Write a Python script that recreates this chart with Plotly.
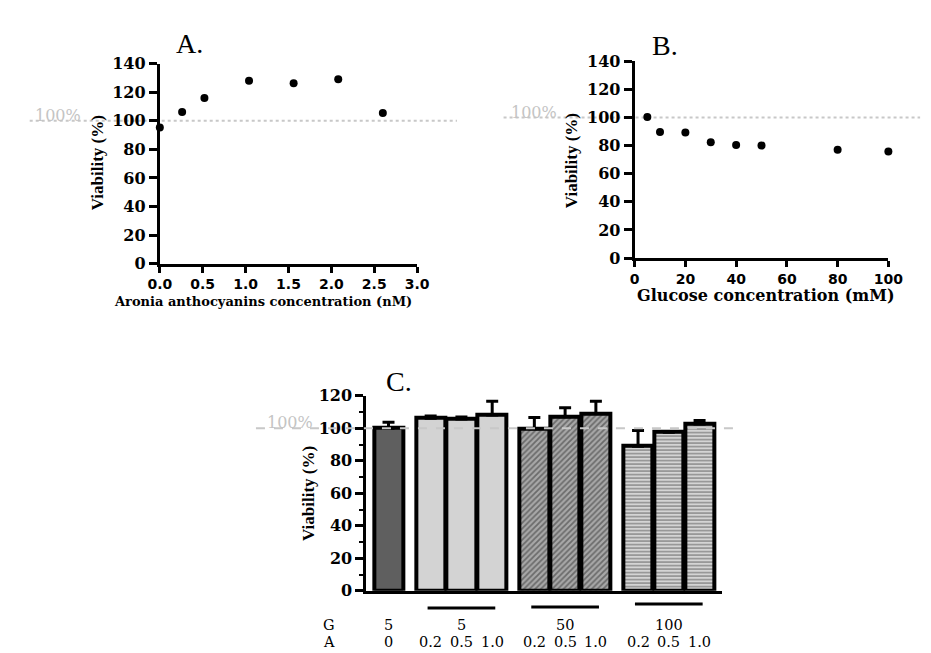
import plotly.graph_objects as go

# ---------------- data ----------------
a_conc = [0, 0.26, 0.52, 1.04, 1.56, 2.08, 2.6]
a_viab = [95.3, 106.2, 116.0, 128.0, 126.2, 129.1, 105.5]

g_conc = [5, 10, 20, 30, 40, 50, 80, 100]
g_viab = [100.4, 89.8, 89.3, 82.4, 80.4, 80.1, 77.1, 75.8]

c_group_G = ["5", "5", "50", "100"]
c_group_A = [["0"], ["0.2", "0.5", "1.0"], ["0.2", "0.5", "1.0"], ["0.2", "0.5", "1.0"]]
c_viab = [[100.0], [106.2, 105.8, 108.2], [99.8, 107.2, 109.2], [89.0, 97.6, 102.6]]
c_err = [[3.8], [1.4, 1.2, 8.5], [6.8, 5.5, 7.5], [9.6, 0.4, 2.2]]

W, H = 931, 653


def px(x):
    return x / W


def py(y):
    return 1 - y / H


SERIF = "Liberation Serif"
DSERIF = "DejaVu Serif"
DSANS = "DejaVu Sans"

fig = go.Figure()

# Panel A
fig.add_trace(go.Scatter(x=a_conc, y=a_viab, mode="markers", xaxis="x", yaxis="y",
                         marker=dict(color="black", size=8), cliponaxis=False, showlegend=False))
# Panel B
fig.add_trace(go.Scatter(x=g_conc, y=g_viab, mode="markers", xaxis="x2", yaxis="y2",
                         marker=dict(color="black", size=8), cliponaxis=False, showlegend=False))

# Panel C bars
styles = [
    dict(color="#5f5f5f"),
    dict(color="#d3d3d3"),
    dict(color="#a8a8a8", pattern=dict(shape="/", fgcolor="#2e2e2e", bgcolor="#a8a8a8", size=4, solidity=0.45)),
    dict(color="#cfcfcf", pattern=dict(shape="-", fgcolor="#5c5c5c", bgcolor="#d4d4d4", size=3.5, solidity=0.5)),
]
gap = 0.37
pos = 0.0
group_pos = []
for gi, vals in enumerate(c_viab):
    xs = []
    for _ in vals:
        xs.append(pos)
        pos += 1
    pos += gap
    group_pos.append(xs)
    m = dict(styles[gi])
    m["line"] = dict(color="black", width=4)
    fig.add_trace(go.Bar(x=xs, y=vals, width=0.95, xaxis="x3", yaxis="y3", marker=m,
                         error_y=dict(type="data", symmetric=False, array=c_err[gi],
                                      arrayminus=[0] * len(vals), color="black",
                                      thickness=3, width=6),
                         showlegend=False))

ytickfont = dict(family=DSERIF, size=16, color="black", weight="bold")
xtickfont = dict(family=DSANS, size=14, color="black", weight="bold")
axcommon = dict(showgrid=False, zeroline=False, showline=True, linecolor="black", linewidth=3,
                ticks="outside", tickcolor="black", tickwidth=2.5)

fig.update_layout(
    width=W, height=H, margin=dict(l=0, r=0, t=0, b=0),
    paper_bgcolor="white", plot_bgcolor="white", bargap=0,
    xaxis=dict(domain=[px(144), px(409)], range=[0, 3], dtick=0.5, tickformat=".1f",
               ticklen=6, tickfont=xtickfont, anchor="y", **axcommon),
    yaxis=dict(domain=[py(254), py(48)], range=[0, 140], dtick=20, ticklen=8,
               tickfont=ytickfont, anchor="x", **axcommon),
    xaxis2=dict(domain=[px(633), px(894.3)], range=[0, 100], dtick=20,
                ticklen=6, tickfont=xtickfont, anchor="y2", **axcommon),
    yaxis2=dict(domain=[py(248.3), py(45.7)], range=[0, 140], dtick=20, ticklen=8,
                tickfont=ytickfont, anchor="x2", **axcommon),
    xaxis3=dict(domain=[px(356.7), px(723)], range=[-0.72, 10.84], showgrid=False, zeroline=False,
                showline=True, linecolor="black", linewidth=3, showticklabels=False, ticks="",
                anchor="y3"),
    yaxis3=dict(domain=[py(591), py(390.2)], range=[0, 120], dtick=20, ticklen=8,
                tickfont=ytickfont, anchor="x3",
                minor=dict(dtick=10, ticklen=4, tickwidth=2, ticks="outside", tickcolor="black"),
                **axcommon),
)

shapes = []
annotations = []

# 100% reference lines
shapes.append(dict(type="line", xref="paper", yref="y", x0=px(10), x1=px(450), y0=100, y1=100,
                   line=dict(color="#c8c8c8", width=2, dash="dot"), layer="below"))
shapes.append(dict(type="line", xref="paper", yref="y2", x0=px(498), x1=px(927), y0=100, y1=100,
                   line=dict(color="#c8c8c8", width=2, dash="dot"), layer="below"))
shapes.append(dict(type="line", xref="paper", yref="y3", x0=px(243), x1=px(740), y0=100, y1=100,
                   line=dict(color="#c8c8c8", width=2, dash="dash"), layer="above"))

lbl100 = dict(family=DSERIF, size=16, color="#c4c4c4")
annotations.append(dict(text="100%", xref="paper", yref="paper", x=px(13), y=py(101),
                        xanchor="left", yanchor="middle", showarrow=False, font=lbl100))
annotations.append(dict(text="100%", xref="paper", yref="paper", x=px(504), y=py(98),
                        xanchor="left", yanchor="middle", showarrow=False, font=lbl100))
annotations.append(dict(text="100%", xref="paper", yref="paper", x=px(252), y=py(418),
                        xanchor="left", yanchor="middle", showarrow=False, font=lbl100))

# Panel letters
letter_font = dict(family=SERIF, size=28, color="black")
for t, x, y in [("A.", 175, 27), ("B.", 664, 29), ("C.", 390, 375)]:
    annotations.append(dict(text=t, xref="paper", yref="paper", x=px(x), y=py(y),
                            xanchor="center", yanchor="middle", showarrow=False, font=letter_font))

# Axis titles
ytitle_font = dict(family=SERIF, size=17, color="black", weight="bold")
for x, y in [(80, 150), (568, 148), (297, 491)]:
    annotations.append(dict(text="Viability (%)", xref="paper", yref="paper", x=px(x), y=py(y),
                            xanchor="center", yanchor="middle", textangle=-90, showarrow=False,
                            font=ytitle_font))
annotations.append(dict(text="Aronia anthocyanins concentration (nM)", xref="paper", yref="paper",
                        x=px(250), y=py(293), xanchor="center", yanchor="middle", showarrow=False,
                        font=dict(family=DSERIF, size=13, color="black", weight="bold")))
annotations.append(dict(text="Glucose concentration (mM)", xref="paper", yref="paper",
                        x=px(768), y=py(287), xanchor="center", yanchor="middle", showarrow=False,
                        font=dict(family=DSERIF, size=16, color="black", weight="bold")))

# Panel C group underlines and G/A labels
under_y = [None, 608.7, 607.7, 604.7]
ga_font = dict(family=DSERIF, size=14.5, color="black")
G_Y, A_Y = 626, 643.5
for gi, xs in enumerate(group_pos):
    cx = sum(xs) / len(xs)
    if under_y[gi] is not None:
        shapes.append(dict(type="line", xref="x3", yref="paper", x0=cx - 1.1, x1=cx + 1.1,
                           y0=py(under_y[gi]), y1=py(under_y[gi]),
                           line=dict(color="black", width=3)))
    annotations.append(dict(text=c_group_G[gi], xref="x3", yref="paper", x=cx, y=py(G_Y),
                            xanchor="center", yanchor="middle", showarrow=False, font=ga_font,
                            borderpad=0))
    for x, a in zip(xs, c_group_A[gi]):
        annotations.append(dict(text=a, xref="x3", yref="paper", x=x, y=py(A_Y),
                                xanchor="center", yanchor="middle", showarrow=False, font=ga_font,
                                borderpad=0))
annotations.append(dict(text="G", xref="paper", yref="paper", x=px(318), y=py(G_Y),
                        xanchor="center", yanchor="middle", showarrow=False, font=ga_font,
                        borderpad=0))
annotations.append(dict(text="A", xref="paper", yref="paper", x=px(318), y=py(A_Y),
                        xanchor="center", yanchor="middle", showarrow=False, font=ga_font,
                        borderpad=0))

fig.update_layout(shapes=shapes, annotations=annotations)
fig.write_html("out.html")
